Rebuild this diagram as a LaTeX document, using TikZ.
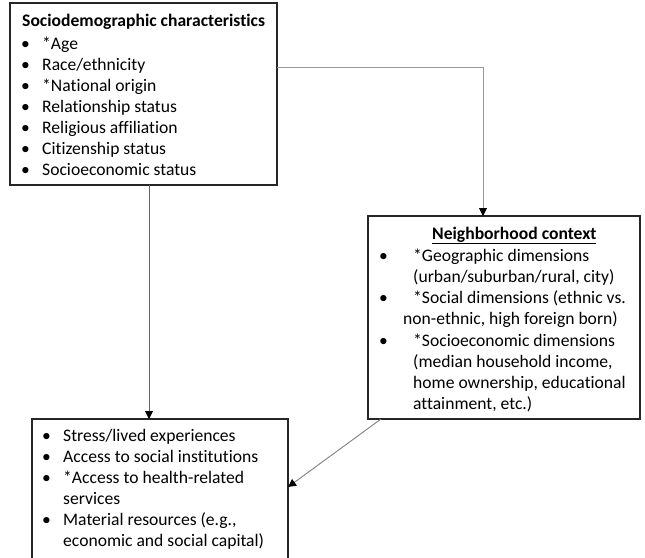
\documentclass[tikz,border=0pt]{standalone}
\usepackage{fontspec}
\setmainfont[Ligatures=NoCommon]{Carlito}
\usetikzlibrary{arrows.meta,fit}
\newcommand{\bodysize}{\fontsize{17.6}{21}\selectfont}
\tikzset{
  box/.style={draw=black!85, line width=1.3pt, inner sep=0pt, outer sep=0pt},
  txt/.style={anchor=base west, inner sep=0pt, font=\bodysize},
  bul/.style={anchor=base west, inner sep=0pt, font=\bodysize},
  conn/.style={line width=0.9pt},
  tip/.style={-{Triangle[length=8pt,width=8pt,color=black]}}
}
\begin{document}
\begin{tikzpicture}[x=1pt,y=-1pt]
\useasboundingbox (0,0) rectangle (645,557);
\clip (0,0) rectangle (645,557);

% boxes
\node[box, fit={(10,3) (277,185)}] (demo) {};
\node[box, fit={(368,216) (640,419)}] (hood) {};
\node[box, fit={(32,419) (288,580)}] (path) {};

% sociodemographic characteristics
\node[txt, font=\bodysize\bfseries] (t1) at (22,26) {Sociodemographic characteristics};
\foreach \y/\s [count=\i] in {49/{*Age},70/{Race/ethnicity},91/{*National origin},112/{Relationship status},133/{Religious affiliation},154/{Citizenship status},175/{Socioeconomic status}}{
  \node[bul] (b1\i) at (21,\y) {•};
  \node[txt] (l1\i) at (42,\y) {\s};
}

% neighborhood context
\node[txt, font=\bodysize\bfseries] (t2) at (432,239) {\underline{Neighborhood context}};
\node[bul] (b21) at (379,261) {•};
\node[txt] (l21) at (413,261) {*Geographic dimensions};
\node[txt] (l22) at (413,282) {(urban/suburban/rural, city)};
\node[bul] (b22) at (379,303) {•};
\node[txt] (l23) at (413,303) {*Social dimensions (ethnic vs.};
\node[txt] (l24) at (403,324) {non-ethnic, high foreign born)};
\node[bul] (b23) at (379,346) {•};
\node[txt] (l25) at (413,346) {*Socioeconomic dimensions};
\node[txt] (l26) at (413,367) {(median household income,};
\node[txt] (l27) at (413,388) {home ownership, educational};
\node[txt] (l28) at (413,409) {attainment, etc.)};

% pathways
\node[bul] (b31) at (42,441) {•};
\node[txt] (l31) at (63,441) {Stress/lived experiences};
\node[bul] (b32) at (42,462) {•};
\node[txt] (l32) at (63,462) {Access to social institutions};
\node[bul] (b33) at (42,483) {•};
\node[txt] (l33) at (63,483) {*Access to health-related};
\node[txt] (l34) at (63,504) {services};
\node[bul] (b34) at (42,525) {•};
\node[txt] (l35) at (63,525) {Material resources (e.g.,};
\node[txt] (l36) at (63,546) {economic and social capital)};

% connectors
\coordinate (bend) at (483,67);
\coordinate (down) at (149,0);
\coordinate (diag0) at (381,0);
\coordinate (diag1) at (0,487);
\draw[conn, draw=black!40] (demo.east |- bend) -- (bend);
\draw[conn, draw=black!40, tip] (bend) -- (hood.north -| bend);
\draw[conn, draw=black!60, tip] (demo.south -| down) -- (path.north -| down);
\draw[conn, draw=black!50, tip] (hood.south -| diag0) -- (path.east |- diag1);
\end{tikzpicture}
\end{document}
